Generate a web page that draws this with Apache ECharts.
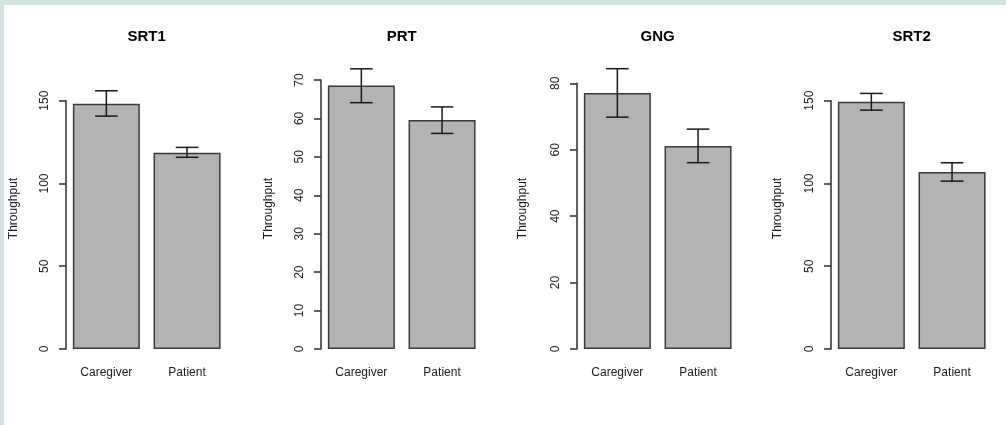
<!DOCTYPE html>
<html>
<head>
<meta charset="utf-8">
<script src="https://cdn.jsdelivr.net/npm/echarts@6/dist/echarts.min.js"></script>
<style>
html,body{margin:0;padding:0;background:#fff;}
#chart{width:1006px;height:425px;}
</style>
</head>
<body>
<div id="chart"></div>
<script>
// ---- data ----
const categories = ['Caregiver', 'Patient'];
const tasks = ['SRT1', 'PRT', 'GNG', 'SRT2'];
const meansSRT1 = [148.1, 118.5];
const meansPRT  = [68.6, 59.6];
const meansGNG  = [77.1, 61.1];
const meansSRT2 = [149.3, 106.9];
const upperSRT1 = [156.0, 121.8];
const upperPRT  = [72.9, 63.0];
const upperGNG  = [84.4, 66.2];
const upperSRT2 = [154.4, 112.5];
const lowerSRT1 = [140.7, 115.8];
const lowerPRT  = [64.1, 56.1];
const lowerGNG  = [69.8, 56.1];
const lowerSRT2 = [144.3, 101.4];
const yTickMax = [150, 70, 80, 150];
const yTickStep = [50, 10, 20, 50];
const yLabel = 'Throughput';

const means = [meansSRT1, meansPRT, meansGNG, meansSRT2];
const uppers = [upperSRT1, upperPRT, upperGNG, upperSRT2];
const lowers = [lowerSRT1, lowerPRT, lowerGNG, lowerSRT2];

// ---- layout ----
const panelLeft = [66, 321, 577, 831];
const bandW = 80.7;
const plotBottom = 349;
const panelTop = [100.7, 80, 83.3, 100.7];
const ylabX = [14, 268.7, 523, 778];
const ylabY = 208.5;
const font = '"Liberation Sans", Arial, Helvetica, sans-serif';
const textColor = '#1a1a1a';

const chart = echarts.init(document.getElementById('chart'), null, {renderer: 'canvas'});

const grids = [], xAxes = [], yAxes = [], series = [];
const graphics = [
  {type: 'rect', shape: {x: 0, y: 0, width: 1006, height: 5}, style: {fill: '#d6e3e3'}, silent: true},
  {type: 'rect', shape: {x: 0, y: 0, width: 4, height: 425}, style: {fill: '#d6e3e3'}, silent: true}
];

tasks.forEach((t, i) => {
  grids.push({left: panelLeft[i], width: bandW * 2, top: panelTop[i], height: plotBottom - panelTop[i], containLabel: false});
  xAxes.push({
    type: 'category', gridIndex: i, data: categories,
    axisLine: {show: false}, axisTick: {show: false},
    axisLabel: {margin: 18, fontFamily: font, fontSize: 12, color: textColor}
  });
  yAxes.push({
    type: 'value', gridIndex: i, min: 0, max: yTickMax[i], interval: yTickStep[i],
    axisLine: {show: true, lineStyle: {color: '#3a3a3a', width: 1.6}},
    axisTick: {show: true, length: 7, lineStyle: {color: '#3a3a3a', width: 1.6}},
    splitLine: {show: false},
    axisLabel: {rotate: 90, margin: 15, fontFamily: font, fontSize: 12, color: textColor}
  });
  series.push({
    type: 'bar', xAxisIndex: i, yAxisIndex: i, data: means[i], barWidth: 67,
    itemStyle: {color: '#b3b3b3', borderColor: '#3a3a3a', borderWidth: 1.5},
    silent: true
  });
  series.push({
    type: 'custom', xAxisIndex: i, yAxisIndex: i, clip: false, z: 5, silent: true,
    data: categories.map((c, k) => [k, lowers[i][k], uppers[i][k]]),
    renderItem: function (params, api) {
      const lo = api.coord([api.value(0), api.value(1)]);
      const hi = api.coord([api.value(0), api.value(2)]);
      const hw = 11.3;
      const st = {stroke: '#1a1a1a', lineWidth: 1.5};
      return {
        type: 'group',
        children: [
          {type: 'line', shape: {x1: lo[0], y1: lo[1], x2: hi[0], y2: hi[1]}, style: st},
          {type: 'line', shape: {x1: lo[0] - hw, y1: lo[1], x2: lo[0] + hw, y2: lo[1]}, style: st},
          {type: 'line', shape: {x1: hi[0] - hw, y1: hi[1], x2: hi[0] + hw, y2: hi[1]}, style: st}
        ]
      };
    }
  });
  graphics.push({
    type: 'text', x: panelLeft[i] + bandW, y: 37,
    style: {text: t, font: 'bold 15px ' + font, fill: '#000', textAlign: 'center', textVerticalAlign: 'middle'},
    silent: true
  });
  graphics.push({
    type: 'text', x: ylabX[i], y: ylabY, rotation: Math.PI / 2,
    style: {text: yLabel, font: '12px ' + font, fill: textColor, textAlign: 'center', textVerticalAlign: 'middle'},
    silent: true
  });
});

chart.setOption({
  animation: false,
  backgroundColor: '#ffffff',
  grid: grids,
  xAxis: xAxes,
  yAxis: yAxes,
  series: series,
  graphic: graphics
});
</script>
</body>
</html>
